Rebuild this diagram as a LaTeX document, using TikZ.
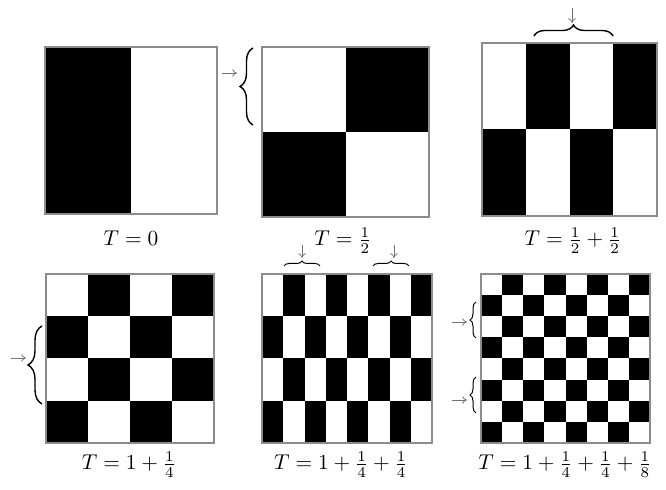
\RequirePackage{fix-cm}
\documentclass[tikz,border=0pt]{standalone}
\usetikzlibrary{decorations.pathreplacing,arrows.meta}
\tikzset{
  cellfill/.style={fill=black},
  frameline/.style={draw=black!45, line width=0.65pt},
  bigbrace/.style={decorate, decoration={brace, amplitude=#1}, line width=0.7pt},
  smallbrace/.style={decorate, decoration={brace, amplitude=#1}, line width=0.5pt},
  pointer/.style={draw=black!55, line width=0.4pt, -{To[length=2.4pt,width=3.8pt]}},
  lbl/.style={anchor=base, inner sep=0pt, font=\fontsize{10.7}{13}\selectfont}
}
% x0,y0,x1,y1,ncols,nrows,parity
\newcommand{\chkboard}[7]{%
  \pgfmathsetmacro{\cellw}{(#3-#1)/#5}%
  \pgfmathsetmacro{\cellh}{(#4-#2)/#6}%
  \foreach \i in {1,...,#5}{%
    \foreach \j in {1,...,#6}{%
      \pgfmathtruncatemacro{\isblack}{mod(\i+\j+#7,2)}%
      \ifnum\isblack=1
        \fill[cellfill] ({#1+(\i-1)*\cellw},{#2+(\j-1)*\cellh}) rectangle ({#1+\i*\cellw},{#2+\j*\cellh});
      \fi
    }%
  }%
  \draw[frameline] (#1,#2) rectangle (#3,#4);
}
\begin{document}
\begin{tikzpicture}[x=0.5pt,y=-0.5pt]
\useasboundingbox (0,0) rectangle (666,490);
% top row
\chkboard{45}{47}{217}{214}{2}{1}{1}
\chkboard{262}{47}{429}{217}{2}{2}{0}
\chkboard{482}{43}{657}{216}{4}{2}{0}
% bottom row
\chkboard{46}{274}{214}{443}{4}{4}{0}
\chkboard{262}{274}{432}{443}{8}{4}{0}
\chkboard{481}{274}{650}{443}{8}{8}{0}

% labels
\node[lbl] (l1) at (131,246) {$T=0$};
\node[lbl] (l2) at (343,246) {$T=\frac{1}{2}$};
\node[lbl] (l3) at (573,246) {$T=\frac{1}{2}+\frac{1}{2}$};
\node[lbl] (l4) at (129,470) {$T=1+\frac{1}{4}$};
\node[lbl] (l5) at (341,470) {$T=1+\frac{1}{4}+\frac{1}{4}$};
\node[lbl] (l6) at (565,470) {$T=1+\frac{1}{4}+\frac{1}{4}+\frac{1}{8}$};

% brace and arrow, panel 2
\coordinate (bAs) at (253,125); \coordinate (bAe) at (253,48);
\draw[bigbrace=6.5pt] (bAs) -- (bAe);
\coordinate (aAs) at (222,73); \coordinate (aAe) at (237,73);
\draw[pointer] (aAs) -- (aAe);

% brace and arrow, panel 3
\coordinate (bBs) at (534,36); \coordinate (bBe) at (613,36);
\draw[bigbrace=5.5pt] (bBs) -- (bBe);
\coordinate (aBs) at (572,8); \coordinate (aBe) at (572,23);
\draw[pointer] (aBs) -- (aBe);

% brace and arrow, panel 4
\coordinate (bCs) at (42,404); \coordinate (bCe) at (42,326);
\draw[bigbrace=7pt] (bCs) -- (bCe);
\coordinate (aCs) at (11,358); \coordinate (aCe) at (26,358);
\draw[pointer] (aCs) -- (aCe);

% braces and arrows, panel 5
\coordinate (bD1s) at (284,266); \coordinate (bD1e) at (320,266);
\draw[smallbrace=2.5pt] (bD1s) -- (bD1e);
\coordinate (aD1s) at (302,245); \coordinate (aD1e) at (302,258);
\draw[pointer] (aD1s) -- (aD1e);
\coordinate (bD2s) at (373,266); \coordinate (bD2e) at (409,266);
\draw[smallbrace=2.5pt] (bD2s) -- (bD2e);
\coordinate (aD2s) at (394,245); \coordinate (aD2e) at (394,258);
\draw[pointer] (aD2s) -- (aD2e);

% braces and arrows, panel 6
\coordinate (bE1s) at (476,338); \coordinate (bE1e) at (476,302);
\draw[smallbrace=3pt] (bE1s) -- (bE1e);
\coordinate (aE1s) at (452,322); \coordinate (aE1e) at (467,322);
\draw[pointer] (aE1s) -- (aE1e);
\coordinate (bE2s) at (476,413); \coordinate (bE2e) at (476,377);
\draw[smallbrace=3pt] (bE2s) -- (bE2e);
\coordinate (aE2s) at (452,400); \coordinate (aE2e) at (467,400);
\draw[pointer] (aE2s) -- (aE2e);
\end{tikzpicture}
\end{document}
